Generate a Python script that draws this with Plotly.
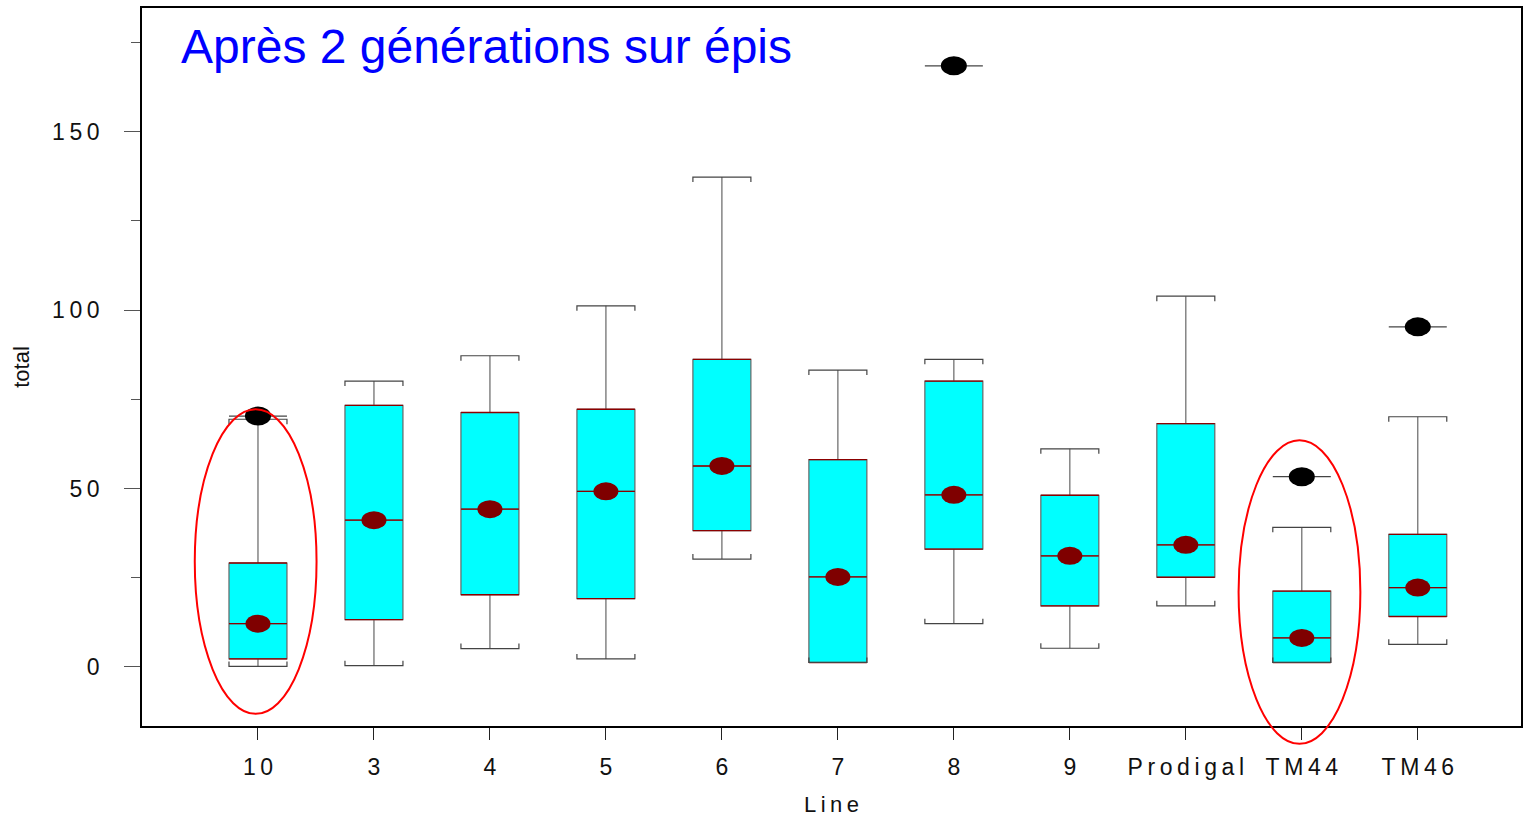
import plotly.graph_objects as go

# ---------------- data ----------------
categories = ["10", "3", "4", "5", "6", "7", "8", "9", "Prodigal", "TM44", "TM46"]
q1 = [2.2, 13.2, 20.2, 19.1, 38.2, 1.2, 33.0, 17.1, 25.1, 1.2, 14.1]
median = [12.1, 41.1, 44.2, 49.2, 56.3, 25.2, 48.2, 31.1, 34.2, 8.1, 22.2]
q3 = [29.1, 73.3, 71.3, 72.2, 86.2, 58.1, 80.1, 48.1, 68.2, 21.2, 37.1]
lower_whisker = [0.1, 0.3, 5.1, 2.2, 30.2, 1.2, 12.1, 5.2, 17.1, 1.2, 6.3]
upper_whisker = [69.4, 80.1, 87.2, 101.2, 137.3, 83.2, 86.2, 61.1, 103.9, 39.1, 70.1]
center_dot = [12.1, 41.1, 44.2, 49.2, 56.3, 25.2, 48.2, 31.1, 34.2, 8.1, 22.2]
outlier_cat = ["10", "8", "TM44", "TM46"]
outlier_val = [70.3, 168.5, 53.3, 95.3]
highlight_cat = ["10", "TM44"]
highlight_low = [-13.2, -21.6]
highlight_high = [72.2, 63.5]

y_tickvals = [0, 50, 100, 150]
title_text = "Après 2 générations sur épis"
x_title = "Line"
y_title = "total"

# ---------------- styling ----------------
X_RANGE = [-1.0, 10.89]
Y_RANGE = [-16.6, 184.7]
BOX_W = 0.5
HALF = BOX_W / 2
CAP_TICK = 1.4
FONT = "Liberation Sans, Arial, sans-serif"
THIN = "\u2009"

pos = list(range(len(categories)))
idx = {c: i for i, c in enumerate(categories)}

fig = go.Figure()

fig.add_trace(go.Box(
    x=pos, q1=q1, median=median, q3=q3,
    lowerfence=lower_whisker, upperfence=upper_whisker,
    width=BOX_W, whiskerwidth=0, boxpoints=False,
    fillcolor="#00FFFF", line=dict(color="#666666", width=1.2),
    showlegend=False, hoverinfo="skip",
))

# dark red top/bottom edges and median lines
rx, ry = [], []
for p, a, m, b in zip(pos, q1, median, q3):
    for v in (a, m, b):
        rx += [p - HALF, p + HALF, None]
        ry += [v, v, None]
fig.add_trace(go.Scatter(x=rx, y=ry, mode="lines",
                         line=dict(color="#8B0000", width=1.3),
                         showlegend=False, hoverinfo="skip"))

# bracket-style whisker caps
cx, cy = [], []
for p, lo, hi in zip(pos, lower_whisker, upper_whisker):
    cx += [p - HALF, p - HALF, p + HALF, p + HALF, None]
    cy += [hi - CAP_TICK, hi, hi, hi - CAP_TICK, None]
    cx += [p - HALF, p - HALF, p + HALF, p + HALF, None]
    cy += [lo + CAP_TICK, lo, lo, lo + CAP_TICK, None]
fig.add_trace(go.Scatter(x=cx, y=cy, mode="lines",
                         line=dict(color="#444444", width=1.2),
                         showlegend=False, hoverinfo="skip"))

# outlier lines
ox, oy = [], []
for c, v in zip(outlier_cat, outlier_val):
    p = idx[c]
    ox += [p - HALF, p + HALF, None]
    oy += [v, v, None]
fig.add_trace(go.Scatter(x=ox, y=oy, mode="lines",
                         line=dict(color="#444444", width=1.2),
                         showlegend=False, hoverinfo="skip"))

shapes = []
# dark red dots (ellipses, pixel sized)
for p, v in zip(pos, center_dot):
    shapes.append(dict(type="circle", xref="x", yref="y",
                       xsizemode="pixel", ysizemode="pixel",
                       xanchor=p, yanchor=v, x0=-12.5, x1=12.5, y0=-9, y1=9,
                       fillcolor="#7F0000", line=dict(width=0), layer="above"))
# black outlier ellipses
for c, v in zip(outlier_cat, outlier_val):
    shapes.append(dict(type="circle", xref="x", yref="y",
                       xsizemode="pixel", ysizemode="pixel",
                       xanchor=idx[c], yanchor=v, x0=-13, x1=13, y0=-9.5, y1=9.5,
                       fillcolor="#000000", line=dict(width=0), layer="above"))


def xp(v):
    return (v - X_RANGE[0]) / (X_RANGE[1] - X_RANGE[0])


def yp(v):
    return (v - Y_RANGE[0]) / (Y_RANGE[1] - Y_RANGE[0])


# red highlight ellipses (paper refs so they are not clipped)
for c, lo, hi in zip(highlight_cat, highlight_low, highlight_high):
    p = idx[c] - 0.02
    shapes.append(dict(type="circle", xref="paper", yref="paper",
                       x0=xp(p - 0.525), x1=xp(p + 0.525), y0=yp(lo), y1=yp(hi),
                       line=dict(color="#FF0000", width=2), fillcolor="rgba(0,0,0,0)",
                       layer="above"))

fig.update_layout(
    width=1523, height=821,
    margin=dict(l=142, r=0, t=8, b=95),
    paper_bgcolor="white", plot_bgcolor="white",
    font=dict(family=FONT, color="#111111"),
    shapes=shapes,
    annotations=[dict(text=title_text, xref="paper", yref="paper",
                      x=xp(-0.68), y=yp(174.0), xanchor="left", yanchor="middle",
                      showarrow=False, font=dict(family=FONT, size=48, color="#0000FF"))],
)

fig.update_xaxes(
    range=X_RANGE, tickmode="array", tickvals=pos,
    ticktext=[THIN.join(c) for c in categories],
    ticks="outside", ticklen=12, tickcolor="#222222", tickwidth=1,
    ticklabelstandoff=8,
    tickfont=dict(size=23, color="#111111"),
    showline=True, linecolor="#000000", linewidth=1.5, mirror=True,
    showgrid=False, zeroline=False,
    title=dict(text=THIN.join(x_title), font=dict(size=22, color="#111111"), standoff=17),
)
fig.update_yaxes(
    range=Y_RANGE, tickmode="array", tickvals=y_tickvals,
    ticktext=[THIN.join(str(v)) for v in y_tickvals],
    ticks="outside", ticklen=16, tickcolor="#555555", tickwidth=1,
    ticklabelstandoff=20,
    minor=dict(tickvals=[25, 75, 125, 175], ticks="outside", ticklen=9,
               tickcolor="#555555", tickwidth=1, showgrid=False),
    tickfont=dict(size=23, color="#111111"),
    showline=True, linecolor="#000000", linewidth=1.5, mirror=True,
    showgrid=False, zeroline=False,
    title=dict(text=y_title, font=dict(size=22, color="#111111"), standoff=16),
)

fig.write_html("out.html")
